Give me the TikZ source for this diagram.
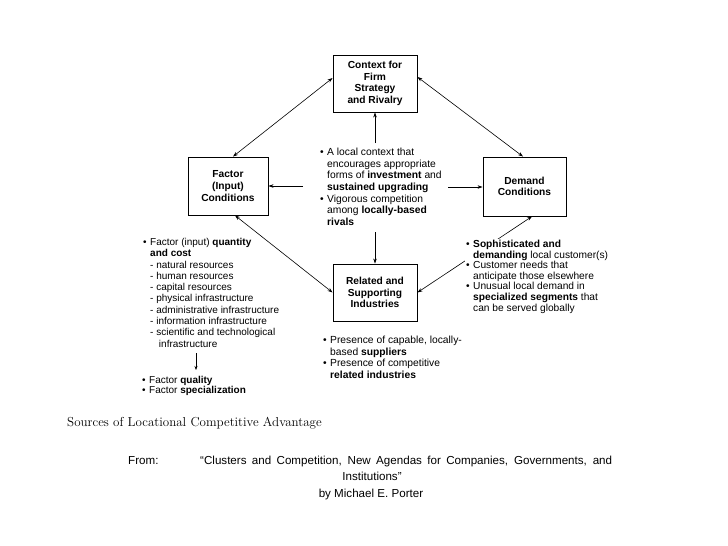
\documentclass[tikz,border=0pt]{standalone}
\usepackage{fontspec}
\setsansfont{Liberation Sans}
\usetikzlibrary{arrows.meta,calc}
\newcommand\blt{\makebox[7pt][l]{•}}
\newcommand\cind{\hspace*{7pt}}
\begin{document}
\begin{tikzpicture}[x=1pt,y=-1pt,
  box/.style={draw, line width=0.9pt, inner sep=1pt, align=center,
    font=\sffamily\bfseries\fontsize{10.2}{11.6}\selectfont},
  blk/.style={anchor=north west, inner sep=0pt, align=left,
    font=\sffamily\fontsize{10.3}{11.6}\selectfont},
  arr/.style={line width=0.6pt, -{Stealth[length=5pt,width=3.5pt]}},
  darr/.style={line width=0.6pt, {Stealth[length=5pt,width=3.5pt]}-{Stealth[length=5pt,width=3.5pt]}},
  src/.style={font=\sffamily\fontsize{11.6}{13}\selectfont, inner sep=0pt}]
\useasboundingbox (0,0) rectangle (728,546);
\fill[white] (0,0) rectangle (728,546);

% boxes
\node[box, minimum width=84pt, minimum height=57pt] (context) at (375,83.5) {Context for\\Firm\\Strategy\\and Rivalry};
\node[box, minimum width=80pt, minimum height=58pt] (factor) at (228,186) {Factor\\(Input)\\Conditions};
\node[box, minimum width=83pt, minimum height=59pt] (demand) at (524.5,186.5) {Demand\\Conditions};
\node[box, minimum width=84pt, minimum height=57pt] (related) at (375,292.5) {Related and\\Supporting\\Industries};

% diagonal double arrows
\draw[darr] ([xshift=5pt]factor.north) -- ([yshift=5.5pt]context.west);
\draw[darr] ([yshift=6.5pt]context.east) -- ([xshift=-1.5pt]demand.north);
\draw[darr] ([xshift=7pt]factor.south) -- (related.west);
\draw[darr] ([xshift=7.5pt]demand.south) -- (related.east);

% center text and arrows
\node[blk] (center) at (320,148) {\blt A local context that\\
\cind encourages appropriate\\
\cind forms of \textbf{investment} and\\
\cind \textbf{sustained upgrading}\\
\blt Vigorous competition\\
\cind among \textbf{locally-based}\\
\cind \textbf{rivals}};
\coordinate (cu) at (375,143);
\coordinate (cd) at (375,232);
\coordinate (cl) at (303,186);
\coordinate (cr) at (448,187);
\draw[arr] (cu) -- (context.south);
\draw[arr] (cd) -- (related.north);
\draw[arr] (cl) -- (cl -| factor.east);
\draw[arr] (cr) -- (cr -| demand.west);

% left block
\node[blk, font=\sffamily\fontsize{10}{11.3}\selectfont] (leftb) at (143,238) {\blt Factor (input) \textbf{quantity}\\
\cind \textbf{and cost}\\
\cind - natural resources\\
\cind - human resources\\
\cind - capital resources\\
\cind - physical infrastructure\\
\cind - administrative infrastructure\\
\cind - information infrastructure\\
\cind - scientific and technological\\
\cind\hspace*{6pt} infrastructure};
\coordinate (la) at (196,353);
\coordinate (lb) at (196,370);
\draw[line width=0.5pt, -{Stealth[length=4pt,width=3pt]}] (la) -- (lb);
\node[blk, font=\sffamily\fontsize{10}{10.5}\selectfont] (qual) at (142,376) {\blt Factor \textbf{quality}\\
\blt Factor \textbf{specialization}};

% right block
\node[blk, fill=white, inner sep=1pt, font=\sffamily\fontsize{10.2}{10.6}\selectfont] (rightb) at (465,239) {\blt \textbf{Sophisticated and}\\
\cind \textbf{demanding} local customer(s)\\
\blt Customer needs that\\
\cind anticipate those elsewhere\\
\blt Unusual local demand in\\
\cind \textbf{specialized segments} that\\
\cind can be served globally};

% bottom block
\node[blk] (botb) at (323,336) {\blt Presence of capable, locally-\\
\cind based \textbf{suppliers}\\
\blt Presence of competitive\\
\cind \textbf{related industries}};

% caption
\node[anchor=base west, inner sep=0pt, font=\rmfamily\fontsize{13}{15}\selectfont] (cap) at (67,426) {Sources of Locational Competitive Advantage};

% source
\node[src, anchor=base west] (from) at (128,464) {From:};
\node[src, anchor=base west] (title1) at (200,464) {\makebox[412pt][s]{“Clusters and Competition, New Agendas for Companies, Governments, and}};
\node[src, anchor=base] (title2) at (372,480) {Institutions”};
\node[src, anchor=base] (author) at (371,497) {by Michael E. Porter};
\end{tikzpicture}
\end{document}
